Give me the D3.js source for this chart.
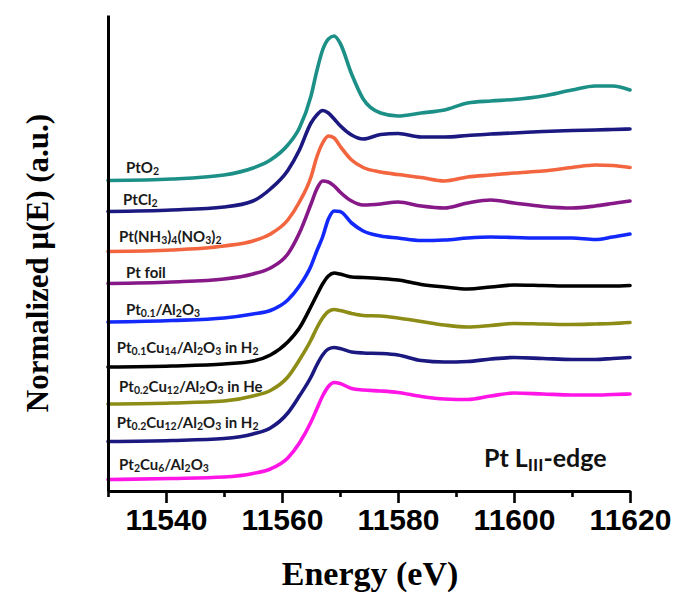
<!DOCTYPE html>
<html>
<head>
<meta charset="utf-8">
<script src="https://cdn.jsdelivr.net/npm/d3@7"></script>
<style>
  html, body { margin: 0; padding: 0; background: #fff; }
  svg { display: block; }
</style>
</head>
<body>
<svg id="chart" width="678" height="596"></svg>
<script>
// Photon energy grid (eV) shared by every spectrum
const energies = [11530, 11541, 11550, 11555, 11558, 11561, 11563, 11565, 11566, 11567,
                  11568, 11569, 11570, 11572, 11574, 11577, 11580, 11584, 11588, 11592,
                  11596, 11600, 11605, 11610, 11614, 11617, 11620];

// Normalized absorption, stacked with vertical offsets (a.u.)
const muPtO2 = [6.21, 6.24, 6.32, 6.46, 6.62, 6.92, 7.26, 7.90, 8.40, 8.82, 9.04, 9.10, 8.96, 8.34,
                7.84, 7.56, 7.50, 7.56, 7.62, 7.76, 7.80, 7.83, 7.90, 8.02, 8.10, 8.10, 8.02];
const muPtCl2 = [5.59, 5.62, 5.68, 5.80, 6.04, 6.41, 6.82, 7.36, 7.52, 7.61, 7.56, 7.44, 7.31, 7.12,
                 7.04, 7.13, 7.15, 7.08, 7.08, 7.11, 7.14, 7.16, 7.19, 7.21, 7.22, 7.23, 7.24];
const muPtAmmine = [4.79, 4.82, 4.90, 5.00, 5.14, 5.42, 5.78, 6.28, 6.68, 6.96, 7.10, 7.06, 6.90, 6.62,
                    6.47, 6.38, 6.33, 6.27, 6.20, 6.28, 6.32, 6.36, 6.40, 6.47, 6.52, 6.51, 6.47];
const muPtFoil = [4.15, 4.18, 4.24, 4.34, 4.46, 4.74, 5.16, 5.74, 6.04, 6.20, 6.18, 6.10, 5.98, 5.80,
                  5.72, 5.74, 5.78, 5.70, 5.66, 5.76, 5.82, 5.76, 5.69, 5.66, 5.70, 5.75, 5.80];
const muPt01 = [3.38, 3.41, 3.46, 3.54, 3.61, 3.82, 4.10, 4.50, 4.80, 5.08, 5.44, 5.60, 5.59, 5.36,
                5.20, 5.10, 5.06, 5.01, 5.02, 5.06, 5.08, 5.07, 5.06, 5.06, 5.03, 5.08, 5.14];
const muPt01Cu14H2 = [2.48, 2.50, 2.54, 2.60, 2.72, 2.98, 3.26, 3.69, 3.92, 4.14, 4.30, 4.36, 4.34, 4.28,
                      4.27, 4.25, 4.22, 4.13, 4.08, 4.04, 4.08, 4.12, 4.11, 4.10, 4.10, 4.10, 4.11];
const muPt02Cu12He = [1.74, 1.76, 1.80, 1.90, 2.01, 2.28, 2.62, 3.02, 3.26, 3.46, 3.59, 3.63, 3.61, 3.55,
                      3.51, 3.50, 3.46, 3.39, 3.32, 3.28, 3.31, 3.35, 3.34, 3.33, 3.34, 3.35, 3.37];
const muPt02Cu12H2 = [0.99, 1.01, 1.05, 1.14, 1.26, 1.56, 1.90, 2.28, 2.52, 2.72, 2.84, 2.87, 2.85, 2.78,
                      2.76, 2.75, 2.72, 2.61, 2.58, 2.59, 2.64, 2.67, 2.65, 2.63, 2.63, 2.65, 2.67];
const muPt2Cu6 = [0.23, 0.25, 0.28, 0.35, 0.44, 0.66, 0.96, 1.38, 1.64, 1.90, 2.09, 2.17, 2.15, 2.05,
                  2.02, 2.00, 1.97, 1.89, 1.84, 1.83, 1.90, 1.96, 1.94, 1.92, 1.92, 1.93, 1.94];

// Sample names; "_{...}" marks a subscript
const sampleNames = ["PtO_{2}", "PtCl_{2}", "Pt(NH_{3})_{4}(NO_{3})_{2}", "Pt foil", "Pt_{0.1}/Al_{2}O_{3}",
                     "Pt_{0.1}Cu_{14}/Al_{2}O_{3} in H_{2}", "Pt_{0.2}Cu_{12}/Al_{2}O_{3} in He",
                     "Pt_{0.2}Cu_{12}/Al_{2}O_{3} in H_{2}", "Pt_{2}Cu_{6}/Al_{2}O_{3}"];
const sampleColors = ["#1c9087", "#1b1880", "#f2653f", "#861888", "#1328fb",
                      "#000000", "#8c8c16", "#1b1880", "#ff16e6"];

const xMajorTicks = [11540, 11560, 11580, 11600, 11620];
const xMinorTicks = [11530, 11550, 11570, 11590, 11610];

const spectra = [muPtO2, muPtCl2, muPtAmmine, muPtFoil, muPt01,
                 muPt01Cu14H2, muPt02Cu12He, muPt02Cu12H2, muPt2Cu6];

// Label anchor for each spectrum: [energy, value] of the text start / baseline
const labelAnchors = [[11533.1, 6.36], [11532.6, 5.72], [11531.9, 4.99], [11533.1, 4.26], [11533.1, 3.52],
                      [11531.5, 2.76], [11531.9, 1.99], [11531.5, 1.26], [11531.9, 0.42]];

const svg = d3.select("#chart");
const margin = { left: 108, right: 48, top: 14, bottom: 105 };
const W = 678, H = 596;

const x = d3.scaleLinear().domain([11530, 11620]).range([margin.left, W - margin.right]);
const y = d3.scaleLinear().domain([0, 9.52]).range([H - margin.bottom, H - margin.bottom - 476]);

const line = d3.line()
  .x((d, i) => x(energies[i]))
  .y(d => y(d))
  .curve(d3.curveMonotoneX);

// spectra
svg.append("g").selectAll("path")
  .data(spectra)
  .join("path")
  .attr("fill", "none")
  .attr("stroke", (d, i) => sampleColors[i])
  .attr("stroke-width", 3.6)
  .attr("stroke-linejoin", "round")
  .attr("stroke-linecap", "round")
  .attr("d", line);

// axes
const baseY = y(0);
const minorAxis = d3.axisBottom(x).tickValues(xMinorTicks).tickSize(6).tickSizeOuter(0).tickFormat("");
const majorAxis = d3.axisBottom(x).tickValues(xMajorTicks).tickSize(12).tickSizeOuter(0)
  .tickPadding(6).tickFormat(d3.format("d"));

const gMinor = svg.append("g").attr("transform", `translate(0,${baseY})`).call(minorAxis);
const gMajor = svg.append("g").attr("transform", `translate(0,${baseY})`).call(majorAxis);
[gMinor, gMajor].forEach(g => {
  g.select(".domain").attr("stroke", "#000").attr("stroke-width", 3);
  g.selectAll(".tick line").attr("stroke", "#000").attr("stroke-width", 2.6);
});
gMajor.selectAll(".tick text")
  .attr("fill", "#000")
  .style("font-family", "'Liberation Sans', Arial, sans-serif")
  .style("font-weight", "bold")
  .style("font-size", "30px");

const leftAxis = d3.axisLeft(y).tickValues([]).tickSizeOuter(0);
const gLeft = svg.append("g").attr("transform", `translate(${margin.left},0)`).call(leftAxis);
gLeft.select(".domain").attr("stroke", "#000").attr("stroke-width", 3);

// axis titles
svg.append("text")
  .attr("x", 370).attr("y", 585)
  .attr("text-anchor", "middle")
  .style("font-family", "'Liberation Serif', 'Times New Roman', serif")
  .style("font-weight", "bold")
  .style("font-size", "34px")
  .text("Energy (eV)");

svg.append("text")
  .attr("transform", "translate(48,263) rotate(-90)")
  .attr("text-anchor", "middle")
  .style("font-family", "'Liberation Serif', 'Times New Roman', serif")
  .style("font-weight", "bold")
  .style("font-size", "31px")
  .text("Normalized \u03bc(E) (a.u.)");

// rich label helper: splits "_{...}" into subscript tspans
function richText(sel, str, subScale) {
  const parts = str.split(/(_\{[^}]*\})/).filter(s => s.length);
  parts.forEach(p => {
    if (p.startsWith("_{")) {
      sel.append("tspan")
        .attr("baseline-shift", "-22%")
        .style("font-size", (subScale * 100) + "%")
        .text(p.slice(2, -1));
    } else {
      sel.append("tspan").text(p);
    }
  });
}

const labels = svg.append("g")
  .style("font-family", "Lato, 'Open Sans', sans-serif")
  .style("font-weight", "bold")
  .style("font-size", "15px")
  .attr("fill", "#1a1a1a");

sampleNames.forEach((name, i) => {
  const t = labels.append("text")
    .attr("x", x(labelAnchors[i][0]))
    .attr("y", y(labelAnchors[i][1]));
  richText(t, name, 0.7);
});

// edge annotation
const edge = svg.append("text")
  .attr("x", 484).attr("y", 467)
  .style("font-family", "Lato, 'Open Sans', sans-serif")
  .style("font-weight", "bold")
  .style("font-size", "25px")
  .attr("fill", "#111");
richText(edge, "Pt L_{III}-edge", 0.7);
</script>
</body>
</html>
